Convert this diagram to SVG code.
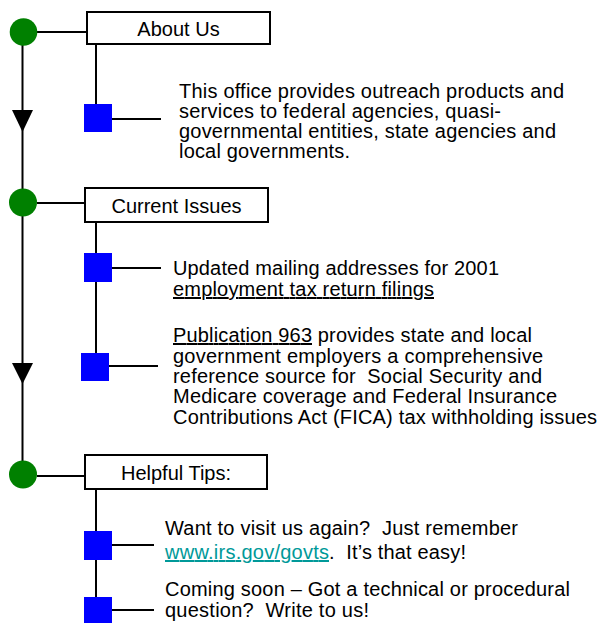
<svg xmlns="http://www.w3.org/2000/svg" width="599" height="623" viewBox="0 0 599 623">
<style>
.ln{stroke:#000;stroke-width:2;fill:none}
.arr{fill:#000;stroke:none}
.dot{fill:#008000;stroke:none}
.box{fill:#fff;stroke:#000;stroke-width:2}
.sq{fill:#0000ff;stroke:none}
text{font-family:"Liberation Sans",Arial,Helvetica,sans-serif;fill:#000}
.hd{font-size:20px;text-anchor:middle}
.bd{font-size:20px}
.u{text-decoration:underline}
.lk{fill:#009999;text-decoration:underline}
</style>
<g id="connectors">
<line class="ln" x1="22.5" y1="32" x2="22.5" y2="474"/>
<polygon class="arr" points="12,110 33,110 22.5,132"/>
<polygon class="arr" points="12,363 33,363 22.5,384"/>
<line class="ln" x1="37" y1="32" x2="87" y2="32"/>
<line class="ln" x1="37" y1="203" x2="85" y2="203"/>
<line class="ln" x1="37" y1="476" x2="85" y2="476"/>
<line class="ln" x1="96" y1="44" x2="96" y2="118"/>
<line class="ln" x1="96" y1="222" x2="96" y2="366"/>
<line class="ln" x1="96" y1="489" x2="96" y2="623"/>
<line class="ln" x1="98" y1="119" x2="161" y2="119"/>
<line class="ln" x1="98" y1="268" x2="161" y2="268"/>
<line class="ln" x1="95" y1="366" x2="158" y2="366"/>
<line class="ln" x1="98" y1="545" x2="154" y2="545"/>
<line class="ln" x1="98" y1="610" x2="154" y2="610"/>
</g>
<g id="dot-about"><circle class="dot" cx="23.5" cy="32" r="13.8"/></g>
<g id="dot-current"><circle class="dot" cx="23" cy="202.5" r="14"/></g>
<g id="dot-tips"><circle class="dot" cx="23" cy="474.5" r="14"/></g>
<g id="box-about"><rect class="box" x="87" y="12" width="183" height="32"/><text class="hd" x="178.5" y="35.5">About Us</text></g>
<g id="box-current"><rect class="box" x="85" y="188" width="183" height="34"/><text class="hd" x="176.5" y="212.5">Current Issues</text></g>
<g id="box-tips"><rect class="box" x="85" y="455" width="182" height="34"/><text class="hd" x="176" y="479.5">Helpful Tips:</text></g>
<g id="sq-about"><rect class="sq" x="84" y="104" width="28" height="28"/></g>
<g id="sq-current-1"><rect class="sq" x="84" y="253" width="28" height="29"/></g>
<g id="sq-current-2"><rect class="sq" x="81" y="353" width="28" height="28"/></g>
<g id="sq-tips-1"><rect class="sq" x="84" y="531" width="28" height="29"/></g>
<g id="sq-tips-2"><rect class="sq" x="84" y="597" width="28" height="28"/></g>
<g id="text-about">
<text class="bd" x="179" y="98" textLength="385" lengthAdjust="spacing">This office provides outreach products and</text>
<text class="bd" x="179" y="118" textLength="322" lengthAdjust="spacing">services to federal agencies, quasi-</text>
<text class="bd" x="179" y="138" textLength="377" lengthAdjust="spacing">governmental entities, state agencies and</text>
<text class="bd" x="179" y="158" textLength="171" lengthAdjust="spacing">local governments.</text>
</g>
<g id="text-current-1">
<text class="bd" x="173" y="275" textLength="326" lengthAdjust="spacing">Updated mailing addresses for 2001</text>
<text class="bd u" x="173" y="296" textLength="261" lengthAdjust="spacing">employment tax return filings</text>
</g>
<g id="text-current-2">
<text class="bd u" x="173" y="342" textLength="139" lengthAdjust="spacing">Publication 963</text>
<text class="bd" x="312" y="342" textLength="220" lengthAdjust="spacing" xml:space="preserve"> provides state and local</text>
<text class="bd" x="173" y="363" textLength="370" lengthAdjust="spacing">government employers a comprehensive</text>
<text class="bd" x="173" y="383" textLength="369" lengthAdjust="spacing" xml:space="preserve">reference source for  Social Security and</text>
<text class="bd" x="173" y="403" textLength="384" lengthAdjust="spacing">Medicare coverage and Federal Insurance</text>
<text class="bd" x="173" y="424" textLength="424" lengthAdjust="spacing">Contributions Act (FICA) tax withholding issues</text>
</g>
<g id="text-tips-1">
<text class="bd" x="165" y="535" textLength="353" lengthAdjust="spacing" xml:space="preserve">Want to visit us again?  Just remember</text>
<text class="bd lk" x="165" y="559" textLength="164" lengthAdjust="spacing">www.irs.gov/govts</text>
<text class="bd" x="329" y="559" textLength="137" lengthAdjust="spacing" xml:space="preserve">.  It’s that easy!</text>
</g>
<g id="text-tips-2">
<text class="bd" x="165" y="596" textLength="405" lengthAdjust="spacing">Coming soon – Got a technical or procedural</text>
<text class="bd" x="165" y="617" textLength="204" lengthAdjust="spacing" xml:space="preserve">question?  Write to us!</text>
</g>
</svg>
